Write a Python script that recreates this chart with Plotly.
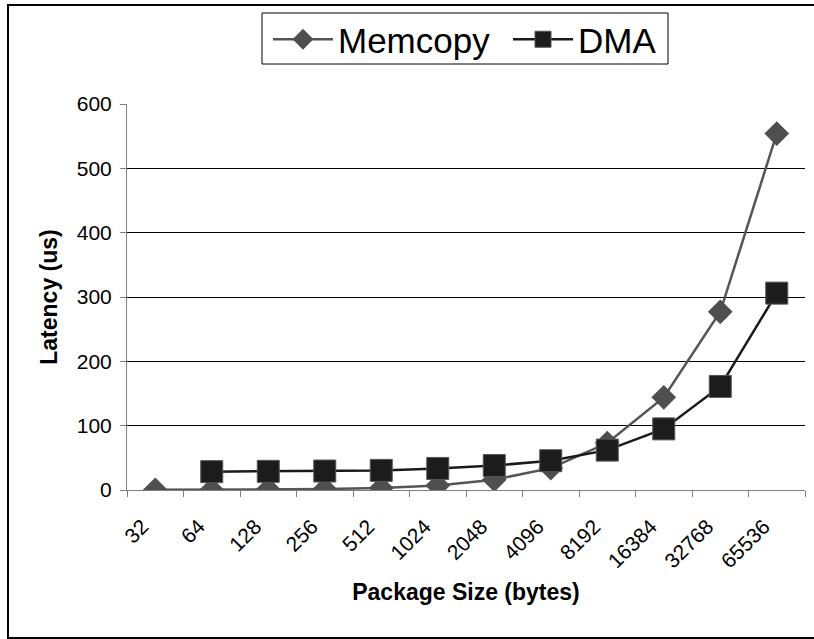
import plotly.graph_objects as go

categories = ["32", "64", "128", "256", "512", "1024", "2048", "4096",
              "8192", "16384", "32768", "65536"]
memcopy = [0.2, 0.4, 1.0, 1.5, 3.0, 7.0, 16.0, 34.0, 73.0, 144.0, 277.0, 554.0]
dma = [None, 28.5, 29.0, 29.5, 30.5, 33.5, 38.0, 45.5, 62.0, 95.0, 161.0, 306.0]
y_ticks = [0, 100, 200, 300, 400, 500, 600]

W, H = 814, 639
ML, MR, MT, MB = 127, 9, 104, 149
PW, PH = W - ML - MR, H - MT - MB

def px_x(p):
    return (p - ML) / PW

def px_y(p):
    return (H - MB - p) / PH

FONT = "Arial, 'Liberation Sans', sans-serif"
LEG_FONT = dict(size=35, family=FONT, color="black")

fig = go.Figure()
fig.add_trace(go.Scatter(
    x=categories, y=memcopy, name="Memcopy", mode="lines+markers",
    line=dict(color="#555555", width=2.5),
    marker=dict(symbol="diamond", size=19, color="#4f4f4f",
                line=dict(color="#4f4f4f", width=0)),
    legend="legend",
))
fig.add_trace(go.Scatter(
    x=categories, y=dma, name="DMA", mode="lines+markers",
    line=dict(color="#1a1a1a", width=2.5),
    marker=dict(symbol="square", size=22, color="#1c1c1c",
                line=dict(color="#555555", width=1)),
    legend="legend2",
))

fig.update_layout(
    width=W, height=H,
    margin=dict(l=ML, r=MR, t=MT, b=MB, autoexpand=False),
    paper_bgcolor="white", plot_bgcolor="white",
    font=dict(family=FONT, color="black", size=21),
    showlegend=True,
    legend=dict(
        orientation="h", x=px_x(268), y=px_y(10), xanchor="left", yanchor="top",
        bgcolor="rgba(0,0,0,0)", borderwidth=0,
        font=LEG_FONT, itemwidth=60,
    ),
    legend2=dict(
        orientation="h", x=px_x(508), y=px_y(10), xanchor="left", yanchor="top",
        bgcolor="rgba(0,0,0,0)", borderwidth=0,
        font=LEG_FONT, itemwidth=60,
    ),
    shapes=[
        dict(type="rect", xref="paper", yref="paper",
             x0=px_x(8), x1=px_x(W + 5), y0=px_y(H - 1), y1=px_y(5),
             line=dict(color="black", width=2), layer="below"),
        dict(type="rect", xref="paper", yref="paper",
             x0=px_x(262), x1=px_x(668), y0=px_y(64), y1=px_y(13),
             line=dict(color="black", width=1), layer="above"),
    ],
)

fig.update_xaxes(
    type="category", categoryorder="array", categoryarray=categories,
    range=[-0.5, len(categories) - 0.5],
    tickson="boundaries", ticks="outside", ticklen=6, tickcolor="#808080",
    showline=True, linecolor="#808080", linewidth=1,
    showgrid=False, zeroline=False,
    tickangle=-45, tickfont=dict(size=21, family=FONT),
    ticklabelstandoff=15, ticklabelshift=-13,
    title=dict(text="<b>Package Size (bytes)</b>", font=dict(size=23, family=FONT),
               standoff=12),
    automargin=False,
)
fig.update_yaxes(
    range=[0, 600], tickvals=y_ticks, ticktext=[str(v) for v in y_ticks],
    ticks="outside", ticklen=6, tickcolor="#808080",
    showline=True, linecolor="#808080", linewidth=1,
    showgrid=True, gridcolor="black", gridwidth=1, zeroline=False,
    tickfont=dict(size=21, family=FONT), ticklabelstandoff=4,
    title=dict(text="<b>Latency (us)</b>", font=dict(size=23, family=FONT),
               standoff=12),
    automargin=False,
)

fig.write_html("out.html", config={"displayModeBar": False},
               post_script="document.body.style.margin='0';")
